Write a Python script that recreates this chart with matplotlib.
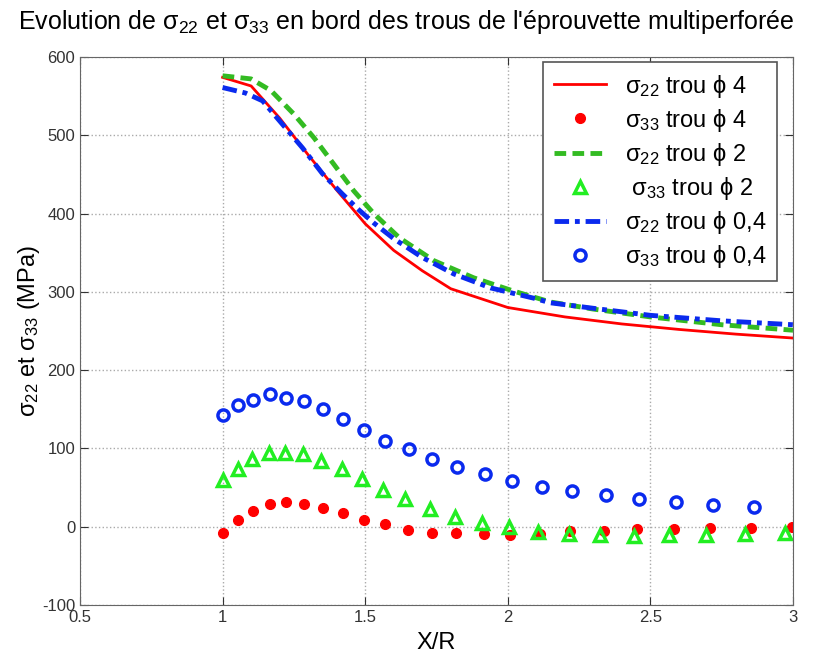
import matplotlib.pyplot as plt

plt.rcParams['font.family'] = ['Liberation Sans', 'DejaVu Sans']
plt.rcParams['mathtext.fontset'] = 'custom'
plt.rcParams['mathtext.rm'] = 'Liberation Sans'
plt.rcParams['mathtext.it'] = 'Liberation Sans'
plt.rcParams['axes.unicode_minus'] = False

# sigma22 curves (lines)
x_s22_4 = [1.0, 1.1, 1.2, 1.3, 1.4, 1.5, 1.6, 1.7, 1.8, 1.9, 2.0, 2.2, 2.4, 2.6, 2.8, 3.0]
s22_4 = [574, 563, 522, 475, 430, 387, 353, 327, 304, 292, 280, 268, 259, 252, 246, 241]

x_s22_2 = [1.0, 1.1, 1.17, 1.25, 1.32, 1.39, 1.46, 1.53, 1.62, 1.74, 1.88, 2.02, 2.15, 2.3, 2.5, 2.75, 3.0]
s22_2 = [576, 572, 557, 527, 497, 463, 429, 400, 369, 340, 318, 301, 287, 278, 268, 258, 251]

x_s22_04 = [1.0, 1.08, 1.14, 1.21, 1.28, 1.35, 1.42, 1.48, 1.53, 1.6, 1.7, 1.81, 1.94, 2.09, 2.15, 2.3, 2.5, 2.75, 3.0]
s22_04 = [561, 554, 544, 514, 484, 451, 425, 404, 388, 368, 344, 323, 305, 292, 286, 279, 270, 263, 258]

# sigma33 points (markers)
x_s33_4 = [1.0, 1.053, 1.106, 1.165, 1.221, 1.284, 1.351, 1.421, 1.495, 1.568, 1.649, 1.733,
           1.817, 1.916, 2.007, 2.112, 2.217, 2.336, 2.452, 2.582, 2.708, 2.852, 2.996]
s33_4 = [-8, 8, 20, 29, 31, 29, 24, 17, 9, 3, -4, -8, -8, -9, -10, -9, -6, -5, -3, -3, -2, -2, -1]

x_s33_2 = [1.0, 1.053, 1.102, 1.162, 1.218, 1.281, 1.344, 1.418, 1.488, 1.561, 1.639, 1.726,
           1.814, 1.909, 2.003, 2.105, 2.214, 2.322, 2.441, 2.564, 2.694, 2.831, 2.971]
s33_2 = [60, 74, 86, 94, 94, 93, 84, 74, 61, 47, 35, 23, 13, 5, -1, -7, -9, -11, -12, -11, -10, -9, -8]

x_s33_04 = [1.0, 1.053, 1.106, 1.165, 1.221, 1.284, 1.351, 1.421, 1.495, 1.568, 1.653, 1.733,
            1.821, 1.919, 2.014, 2.119, 2.224, 2.343, 2.459, 2.589, 2.718, 2.862]
s33_04 = [143, 155, 162, 169, 165, 160, 151, 138, 124, 110, 99, 86, 76, 67, 59, 51, 46, 40, 36, 32, 28, 25]

labels = ['σ$_{22}$ trou ϕ 4', 'σ$_{33}$ trou ϕ 4', 'σ$_{22}$ trou ϕ 2',
          ' σ$_{33}$ trou ϕ 2', 'σ$_{22}$ trou ϕ 0,4', 'σ$_{33}$ trou ϕ 0,4']

fig = plt.figure(figsize=(8.13, 6.6), dpi=100)
ax = fig.add_axes([80 / 813, 55 / 660, 713 / 813, 548 / 660])

ax.plot(x_s22_4, s22_4, color='#ff0000', lw=2, label=labels[0])
ax.plot(x_s33_4, s33_4, 'o', color='#ff0000', ms=7, mec='#ff0000', label=labels[1])
ax.plot(x_s22_2, s22_2, '--', color='#33bb22', lw=3.5, dashes=(2.4, 1.3), label=labels[2])
ax.plot(x_s33_2, s33_2, '^', color='#22ee22', ms=9, mfc='none', mew=2.5, label=labels[3])
ax.plot(x_s22_04, s22_04, '-.', color='#0a2aee', lw=3.5, dashes=(3, 1.2, 1, 1.2), label=labels[4])
ax.plot(x_s33_04, s33_04, 'o', color='#0a2aee', ms=8, mfc='none', mew=2.5, label=labels[5])

ax.set_xlim(0.5, 3)
ax.set_ylim(-100, 600)
ax.set_xticks([0.5, 1, 1.5, 2, 2.5, 3])
ax.set_xticklabels(['0.5', '1', '1.5', '2', '2.5', '3'])
ax.set_yticks(range(-100, 601, 100))
ax.grid(True, linestyle=':', color='#aaaaaa', lw=1)
ax.tick_params(direction='in', length=6, labelsize=12, top=True, right=True, colors='#333333')
for s in ax.spines.values():
    s.set_color('#666666')

ax.set_xlabel('X/R', fontsize=17, labelpad=5)
ax.set_ylabel('σ$_{22}$ et σ$_{33}$ (MPa)', fontsize=17, labelpad=0)
fig.text(0.5, 0.967, "Evolution de σ$_{22}$ et σ$_{33}$ en bord des trous de l'éprouvette multiperforée",
         ha='center', va='center', fontsize=18)

leg = ax.legend(loc='upper right', bbox_to_anchor=(777 / 813, 1 - 62 / 660),
                bbox_transform=fig.transFigure, borderaxespad=0, fontsize=17,
                fancybox=False, framealpha=1, edgecolor='#555555',
                handlelength=2.2, labelspacing=0.3, borderpad=0.45)
leg.get_frame().set_linewidth(1.2)

fig.savefig('out.png', dpi=100)
